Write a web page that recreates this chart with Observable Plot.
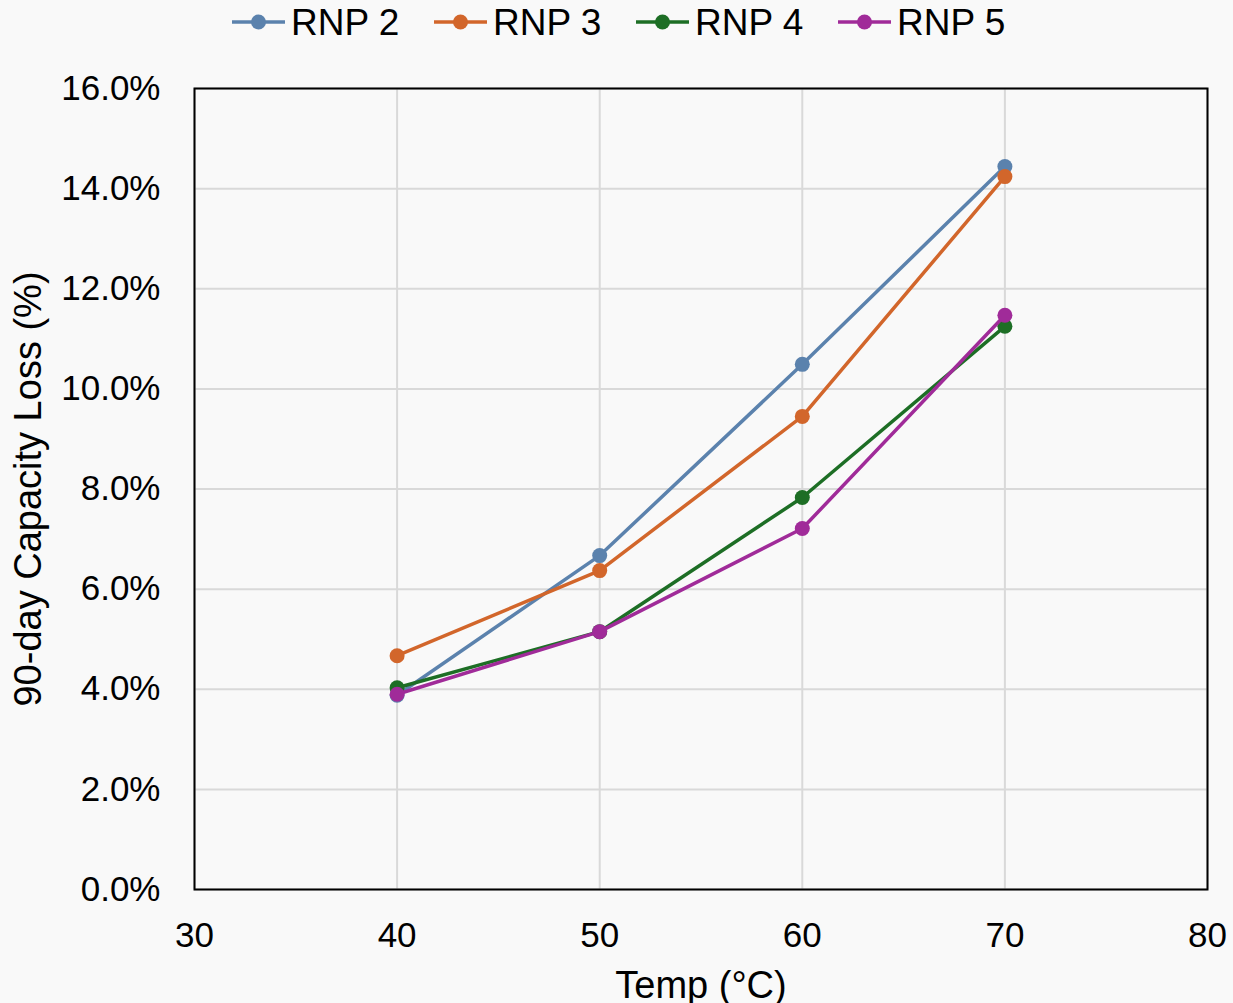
<!DOCTYPE html>
<html>
<head>
<meta charset="utf-8">
<script src="https://cdn.jsdelivr.net/npm/d3@7"></script>
<script src="https://cdn.jsdelivr.net/npm/@observablehq/plot@0.6"></script>
<style>
  html, body { margin: 0; padding: 0; background: #f9f9f9; }
  body { width: 1233px; height: 1003px; overflow: hidden; font-family: "Liberation Sans", Arial, sans-serif; }
  #legend { position: relative; height: 50px; width: 1233px; }
  .item { position: absolute; top: 0; height: 50px; display: flex; align-items: center; }
  .item span { font-size: 37px; color: #000; margin-left: 6px; line-height: 1; position: relative; top: -3px; }
</style>
</head>
<body>
<div id="legend"></div>
<div id="chart"></div>
<script>
const temps = [40, 50, 60, 70];
const seriesNames = ["RNP 2", "RNP 3", "RNP 4", "RNP 5"];
const seriesColors = ["#5b82ad", "#d2662b", "#1d6e25", "#a02b99"];
const rnp2 = [3.88, 6.67, 10.49, 14.44];
const rnp3 = [4.67, 6.37, 9.45, 14.24];
const rnp4 = [4.03, 5.15, 7.83, 11.25];
const rnp5 = [3.90, 5.15, 7.21, 11.47];
const xTicks = [30, 40, 50, 60, 70, 80];
const yTicks = [0, 2, 4, 6, 8, 10, 12, 14, 16];
const xTitle = "Temp (°C)";
const yTitle = "90-day Capacity Loss (%)";

const values = [rnp2, rnp3, rnp4, rnp5];
const data = [];
seriesNames.forEach((s, i) => temps.forEach((t, j) => data.push({series: s, temp: t, loss: values[i][j]})));

// Legend
const legend = document.getElementById("legend");
const legendLeft = [232, 434, 636, 838];
seriesNames.forEach((s, i) => {
  const d = document.createElement("div");
  d.className = "item";
  d.style.left = legendLeft[i] + "px";
  d.innerHTML = `<svg width="53" height="50"><line x1="0" x2="53" y1="22" y2="22" stroke="${seriesColors[i]}" stroke-width="3.5"/><circle cx="26.5" cy="22" r="7.5" fill="${seriesColors[i]}"/></svg><span>${s}</span>`;
  legend.appendChild(d);
});

const chart = Plot.plot({
  width: 1233,
  height: 953,
  marginTop: 38,
  marginBottom: 114,
  marginLeft: 194,
  marginRight: 26,
  style: {background: "#f9f9f9", fontFamily: "'Liberation Sans', Arial, sans-serif", fontSize: "35px", color: "#000", overflow: "visible"},
  x: {domain: [30, 80], ticks: xTicks},
  y: {domain: [0, 16], ticks: yTicks},
  color: {domain: seriesNames, range: seriesColors},
  marks: [
    Plot.gridX(xTicks, {stroke: "#d9d9d9", strokeOpacity: 1, strokeWidth: 2}),
    Plot.gridY(yTicks, {stroke: "#d9d9d9", strokeOpacity: 1, strokeWidth: 2}),
    Plot.axisX(xTicks, {tickSize: 0, tickPadding: 33, label: null, fontSize: 35}),
    Plot.axisY(yTicks, {tickSize: 0, tickPadding: 34, label: null, fontSize: 35, tickFormat: d => d.toFixed(1) + "%"}),
    ...seriesNames.flatMap(s => [
      Plot.line(data.filter(d => d.series === s), {x: "temp", y: "loss", stroke: "series", strokeWidth: 3.5}),
      Plot.dot(data.filter(d => d.series === s), {x: "temp", y: "loss", fill: "series", r: 7.5})
    ]),
    Plot.frame({stroke: "#000", strokeWidth: 2}),
    Plot.text([xTitle], {frameAnchor: "bottom", lineAnchor: "middle", textAnchor: "middle", dy: 96, fontSize: 38, fill: "#000"}),
    Plot.text([yTitle], {frameAnchor: "left", lineAnchor: "middle", textAnchor: "middle", dx: -166, rotate: -90, fontSize: 38, fill: "#000"})
  ]
});
document.getElementById("chart").appendChild(chart);
</script>
</body>
</html>
